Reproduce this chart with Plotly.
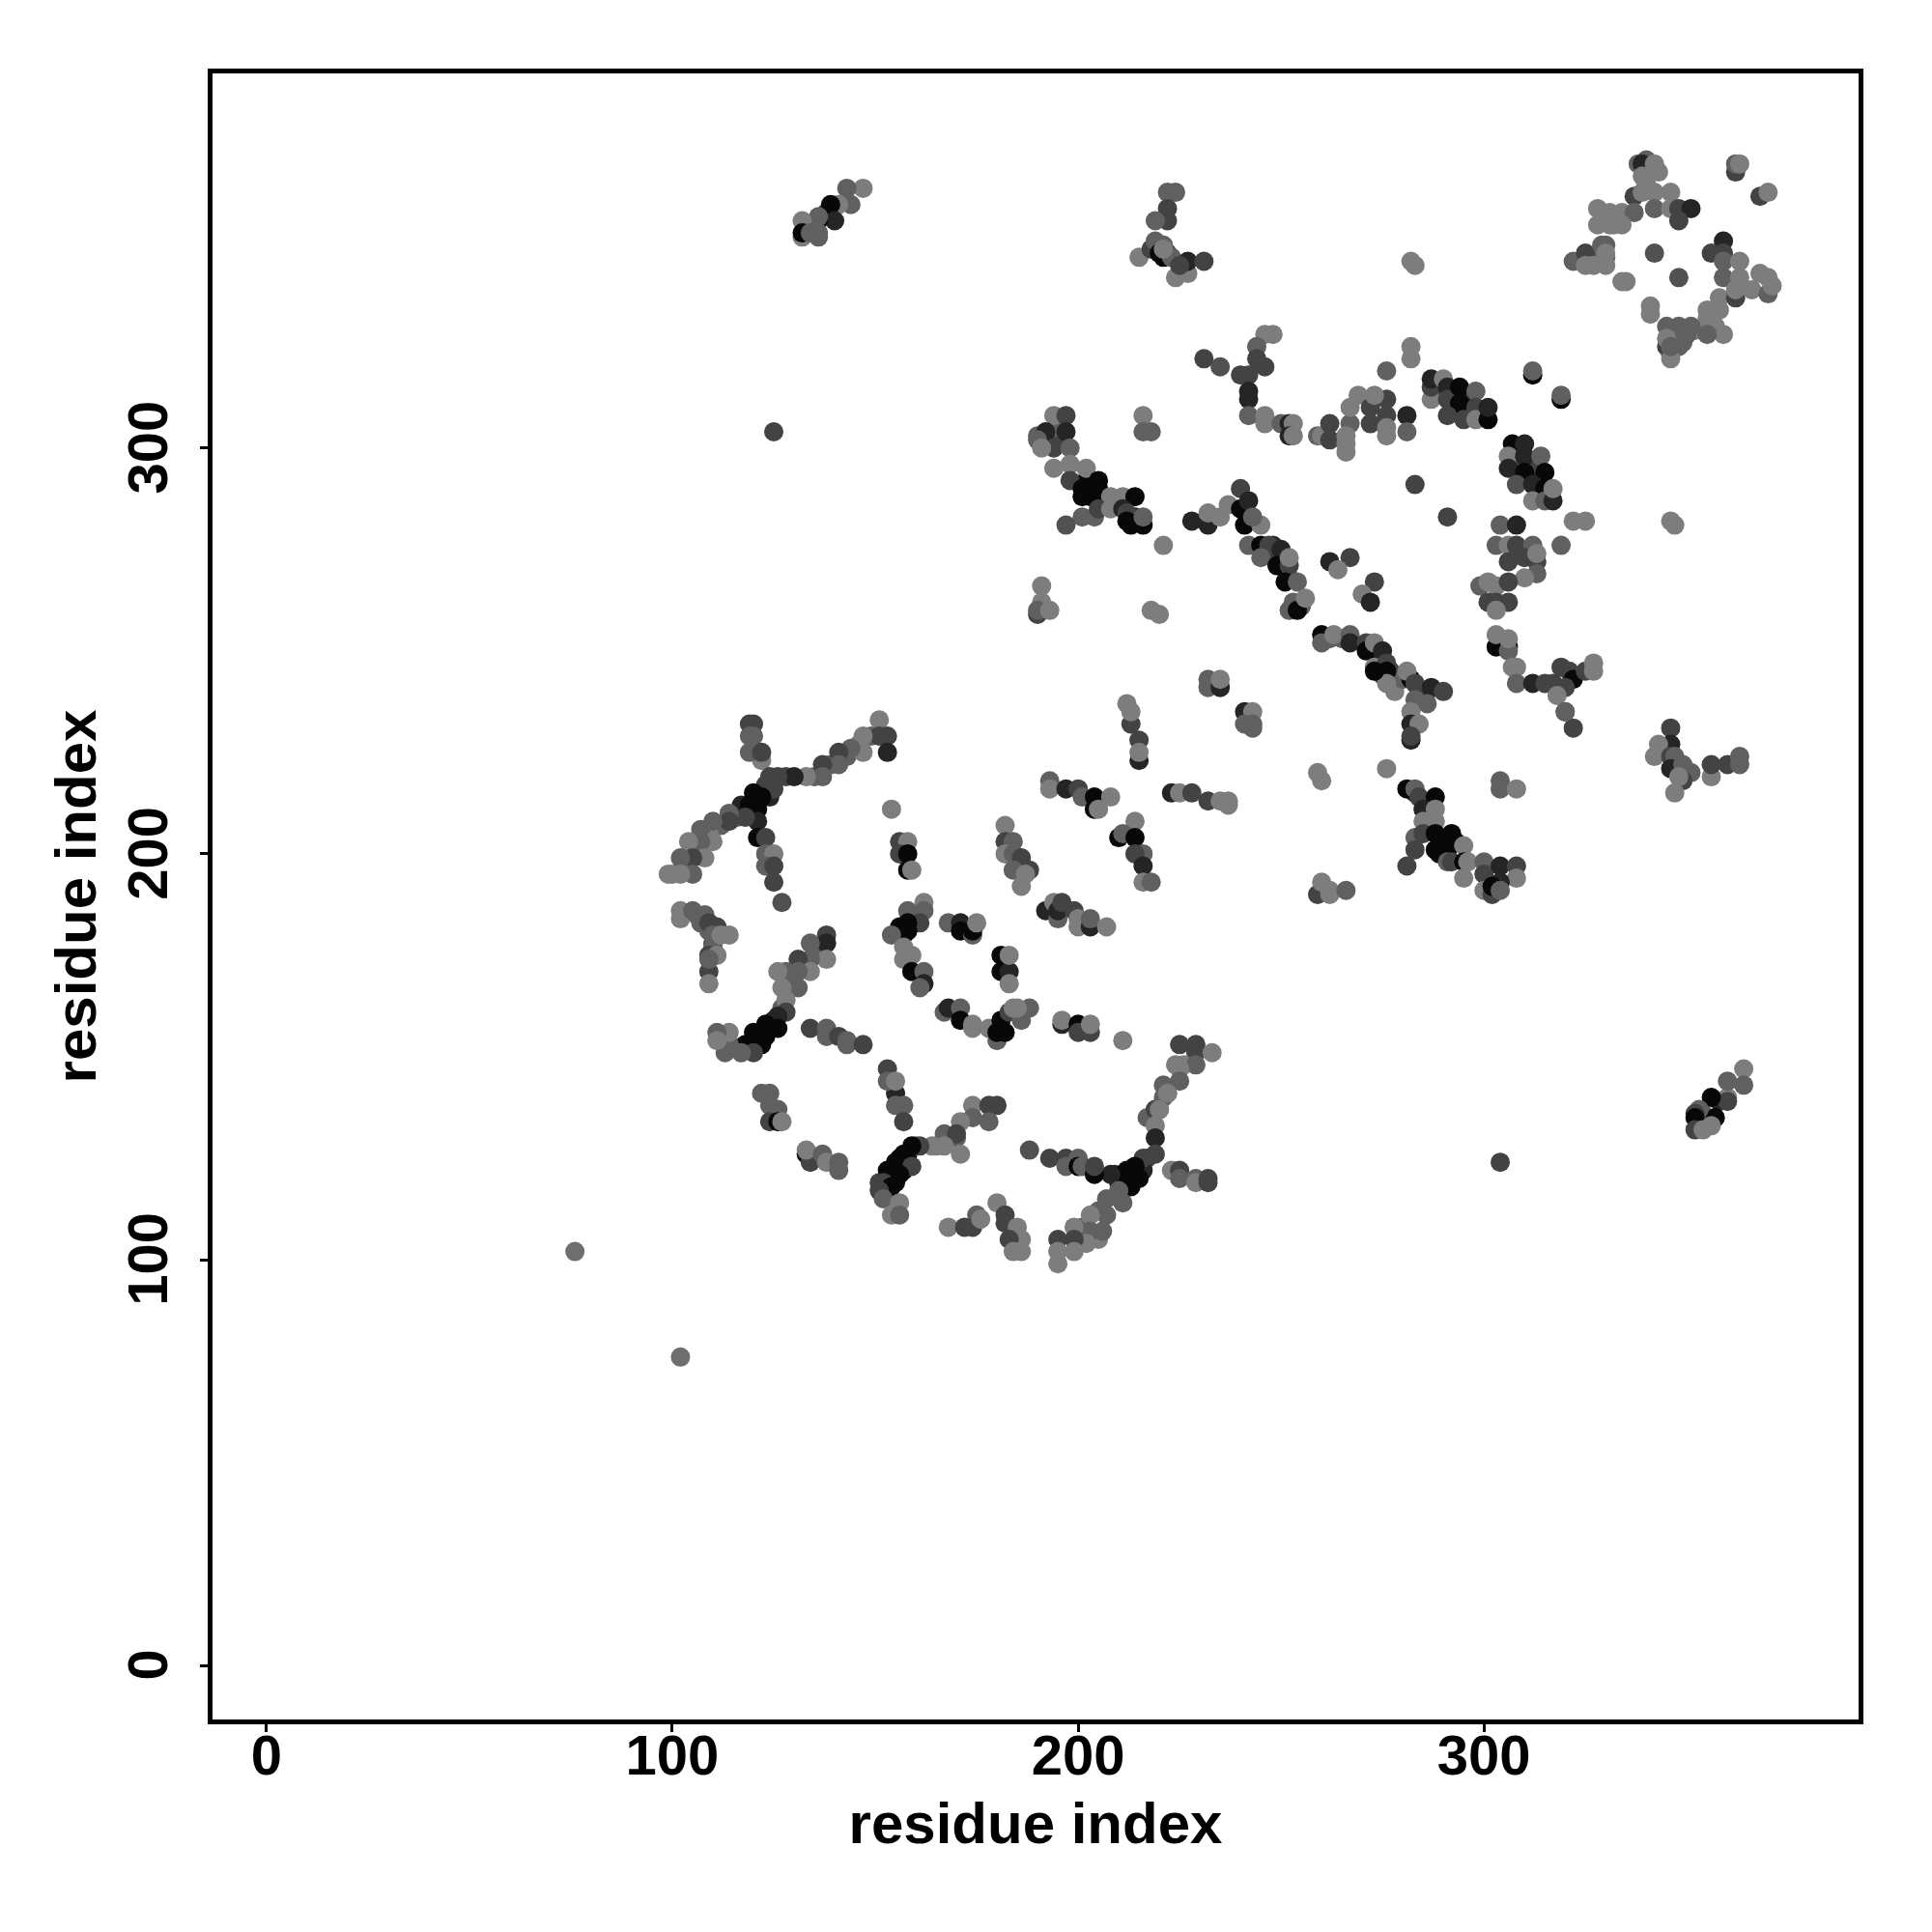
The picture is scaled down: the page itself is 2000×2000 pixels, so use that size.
import plotly.graph_objects as go

# score: 9 black, 7 very dark, 5 dark, 3 mid, 1 light grey
fill1_x=[128,135,139,143,146,149,116,112,109,106,103,100,123,117,120,124]
fill1_y=[219,219,222,224,227,229,209,207,205,201,197,195,217,212,209,214]
fill1_s=[5,3,3,3,1,3,3,3,1,1,1,1,5,7,9,7]
fill2_x=[125,124,121,119,116,127,129,133,136,113,106,107,109,110,110]
fill2_y=[159,157,155,153,152,162,169,172,176,151,185,183,181,178,177]
fill2_s=[7,9,9,9,7,3,3,3,3,3,3,3,3,5,3]
fill3_x=[158,156,154,157,155,153,151,160,165,217,212,210,209,214,213,216,205,201,205,217,221,224,221]
fill3_y=[126,125,122,122,119,118,119,128,128,125,122,119,121,122,120,122,112,108,105,135,143,148,140]
fill3_s=[9,9,9,9,9,5,5,3,1,5,9,7,7,9,9,7,3,3,1,3,3,1,3]
fill4_x=[203,205,202,206,214,213,193,195,195,292,296,289,293,308,312,314,309,312]
fill4_y=[288,290,292,288,283,281,302,302,305,313,312,315,309,295,293,292,297,296]
fill4_s=[9,9,9,9,7,9,3,5,3,7,7,5,9,5,7,7,5,5]
fill5_x=[286,290,289,293,283,285,286,247,250,252,253,248,255,262,265,274,277,275,278,280,284,286]
fill5_y=[206,203,200,203,215,213,210,274,272,268,262,276,261,253,253,248,245,244,240,243,240,240]
fill5_s=[5,9,9,9,7,5,3,5,5,5,3,7,3,3,3,7,5,5,1,3,5,5]
fill6_x=[347,349,352,346,328,330,327,341,340,333,331,134,138,133,137,221,222,354,358,355]
fill6_y=[327,326,329,323,346,347,347,370,365,357,355,354,358,354,357,350,348,136,139,134]
fill6_s=[3,3,1,3,3,3,3,3,1,1,1,3,5,3,5,3,5,3,7,3]
stem_x=[119,120,119,120,122,119,122]
stem_y=[232,232,229,229,223,225,225]
stem_s=[5,5,3,3,1,3,5]
arm_x=[151,153,151,153,147,147,144,141,141,137,137,133,130,126,124,125,122,120,119,121,121,118,114,114,110,107,110,107,104,108,105,102,105,102,99]
arm_y=[233,229,229,225,229,225,226,225,222,222,219,219,219,219,219,216,214,215,212,211,208,209,210,208,208,206,203,203,203,199,199,199,195,195,195]
arm_s=[1,5,5,7,1,1,3,5,3,5,3,1,7,5,5,5,9,9,9,9,7,5,3,5,3,3,1,3,1,1,5,3,3,1,1]
low_x=[121,123,123,125,123,125,125,127]
low_y=[204,204,200,200,197,197,193,188]
low_s=[9,5,3,1,3,5,5,4]
mid1_x=[154,156,158,156,158,158,159,182,182,184,182,184,186,184,186,188,187]
mid1_y=[211,203,203,200,200,196,196,207,203,203,200,200,199,196,192,196,195]
mid1_s=[1,5,1,5,9,9,1,1,5,3,1,3,5,3,1,5,1]
left_x=[102,102,105,108,109,111,110,112,114,109,109,111,109,109]
left_y=[186,184,186,185,183,182,180,180,180,175,171,175,174,168]
left_s=[1,1,3,3,5,5,3,1,1,5,5,1,3,1]
cen_x=[138,138,134,138,134,131,134,131,128,126,131,127,128,128,126,126,123,120,123,122,118,120,117,114,114,111,111]
cen_y=[180,178,178,174,174,174,171,171,171,171,167,167,164,161,160,157,158,156,155,153,153,151,151,153,156,156,154]
cen_s=[5,7,3,1,3,5,1,3,3,1,3,1,1,5,7,9,9,9,9,9,9,5,3,3,1,3,1]
bar_x=[134,138,138,141,143,143,147]
bar_y=[157,157,155,155,154,153,153]
bar_s=[5,3,3,5,3,3,5]
rt_x=[162,162,158,161,158,156,158,157,154,157,159,157,159,162,162,161]
rt_y=[188,186,186,183,183,182,181,180,180,177,175,174,171,171,168,167]
rt_s=[1,3,3,5,9,9,9,9,3,1,1,1,9,3,7,3]
ov_x=[168,171,171,174,174,175,181,181,183,183,183]
ov_y=[183,183,181,180,181,183,175,171,171,175,168]
ov_s=[3,7,9,3,9,1,9,9,7,1,1]
ov2_x=[167,168,171,171,174,174,178,180,180,182,181,183,186,188,185,184]
ov2_y=[161,162,162,159,158,157,157,154,156,156,159,161,159,162,162,162]
ov2_s=[3,7,3,9,1,1,1,3,9,9,9,5,3,3,1,1]
sb_x=[153,155,153,155,155,157,157]
sb_y=[147,141,144,138,144,138,134]
sb_s=[5,7,3,3,1,3,5]
y_x=[174,178,180,174,178,171,167,170,170,171,167,164,161,159,157,155,159,153,156,152,154,151,152,156,154,156]
y_y=[138,138,138,135,134,134,131,130,131,126,128,128,128,128,126,124,123,122,121,119,118,117,115,114,111,111]
y_s=[1,5,5,3,3,1,3,3,5,1,1,1,5,9,9,9,5,9,9,5,9,5,3,1,1,3]
c1_x=[122,124,124,126,124,126,127]
c1_y=[141,141,138,137,134,134,134]
c1_s=[3,3,3,3,5,9,1]
c2_x=[133,134,133,137,138,141,141]
c2_y=[126,124,127,126,124,124,122]
c2_s=[9,5,1,3,1,3,3]
c3_x=[168,172,175,174,176,180,182,182,185,186,183,184,186]
c3_y=[108,108,111,108,110,114,111,109,108,105,105,102,102]
c3_s=[1,5,3,5,1,1,5,5,1,1,5,1,1]
solo_x=[102,76,125,304]
solo_y=[76,102,304,124]
solo_s=[2,2,5,5]
a1_x=[213,213,212,215,215,215,241,243,241,243,243,259,260]
a1_y=[232,235,237,228,223,225,235,235,232,232,231,220,218]
a1_s=[5,1,1,5,7,1,7,1,3,3,3,1,1]
a2_x=[193,193,197,200,201,204,204,205,208,223,225,228,232,235,237,237]
a2_y=[218,216,216,216,214,214,211,211,214,215,215,215,213,213,213,212]
a2_s=[3,1,7,5,3,9,9,1,1,7,1,5,5,1,1,1]
a3_x=[214,210,211,214,216,214,216,216,218]
a3_y=[208,204,205,204,200,200,197,193,193]
a3_s=[1,9,3,9,3,5,7,1,3]
a4_x=[192,194,195,195,196,199,200,200,203,203,207]
a4_y=[186,188,184,186,188,186,184,182,182,184,182]
a4_s=[7,1,3,7,5,5,1,1,7,3,1]
a5_x=[259,260,262,262,266,196,196,200,200,203,203,211]
a5_y=[190,193,191,190,191,158,159,158,156,156,158,154]
a5_s=[5,1,1,1,3,7,1,9,5,5,1,1]
b1_x=[225,229,229,233,226,229,225,225,222,222,219,220,220,219,219,219,216,214,215,211,213,208,210,207,211,207,203,206,203,202,199,199,199,195,195,195]
b1_y=[153,153,151,151,148,148,147,144,141,141,137,137,137,133,130,126,125,123,120,121,118,121,117,115,114,111,111,107,107,104,108,105,102,105,102,99]
b1_s=[5,5,5,1,1,3,1,3,5,1,5,5,1,1,7,5,5,9,9,9,9,7,3,3,3,3,1,3,3,1,1,5,1,5,1,1]
b2_x=[188,193,197,200,197,200,201,204,204]
b2_y=[127,125,125,125,123,123,123,121,123]
b2_s=[4,5,5,3,3,9,3,9,5]
b3_x=[223,225,225,229,229,232,232]
b3_y=[122,122,120,120,119,120,119]
b3_s=[1,5,3,3,1,5,5]
d1_x=[194,197,190,192,197,190,194,198,191,194,198,198,202,201,205,201,205,203,208,211,214,201,204,205,197,208,211,212,212,216,216]
d1_y=[308,308,303,304,304,302,300,300,300,295,296,292,295,290,292,288,288,290,288,288,288,283,283,285,281,285,285,284,282,281,283]
d1_s=[1,5,3,7,7,3,5,3,1,1,1,5,1,9,9,9,9,9,1,1,9,3,3,5,4,1,7,5,9,9,3]
d2_x=[216,216,218,221,228,232,232,235,237,240,240,242,241,245,243]
d2_y=[308,304,304,276,282,281,284,283,286,290,285,287,281,281,283]
d2_s=[1,3,3,1,7,7,1,1,1,5,9,7,9,1,3]
e1_x=[242,245,247,245,250,249,252,252,251,254,252,254,256]
e1_y=[276,276,276,273,275,271,271,273,267,267,260,260,263]
e1_s=[3,9,5,3,7,9,5,1,9,3,3,9,1]
e2_x=[262,267,264,273,270,272,191,191,190,190,193,218,220,232,232,235,235]
e2_y=[272,273,270,267,264,262,266,262,259,260,260,260,259,243,241,241,243]
e2_s=[7,5,1,5,1,7,1,1,5,3,1,1,1,3,3,7,1]
f1_x=[242,242,246,246,250,252,253,252,253,259,260,262,262,267,266,266,266]
f1_y=[312,308,308,306,306,306,306,303,303,303,303,306,302,306,303,301,299]
f1_s=[7,3,1,1,3,7,1,7,1,3,1,5,5,3,1,1,1]
f2_x=[269,267,272,276,272,273,276,276,276,281,281]
f2_y=[313,310,306,312,310,313,308,305,303,308,304]
f2_s=[1,1,5,5,5,1,5,1,1,7,3]
f3_x=[231,235,240,242,246,248,244,244,242,246]
f3_y=[322,320,318,318,328,328,325,322,314,320]
f3_s=[5,4,5,5,1,1,3,5,7,5]
g1_x=[282,282,276,287,287,287,290,291,291,294,294,291,295,298,298,298,301,301]
g1_y=[325,322,319,312,315,317,317,315,312,315,311,308,307,314,310,307,307,310]
g1_s=[1,1,3,1,5,7,1,7,5,9,9,5,5,3,5,1,9,7]
g2_x=[312,312,319,319,307,310,306,306,310,314,310,315,308,312,315,312,315,317,317]
g2_y=[318,319,312,313,301,301,298,295,298,298,294,294,291,291,290,287,287,287,290]
g2_s=[9,3,9,3,9,7,1,7,7,3,9,9,4,7,9,1,3,7,1]
h1_x=[283,291,322,325,319,346,347,282,283,304,308]
h1_y=[291,283,282,282,276,282,281,346,345,281,281]
h1_s=[5,5,1,1,3,1,1,1,1,3,7]
h2_x=[303,306,308,312,306,310,313,313,313,310]
h2_y=[276,276,276,276,272,273,272,269,274,268]
h2_s=[3,1,5,3,5,5,5,3,1,1]
h3_x=[299,301,303,306,306,301,303,303]
h3_y=[266,267,266,267,262,262,262,260]
h3_s=[3,1,1,5,5,5,5,1]
i1_x=[303,303,306,306,306,307,308,308,312]
i1_y=[251,254,251,250,253,246,246,242,242]
i1_s=[9,1,9,3,1,1,1,3,7]
i2_x=[315,317,319,321,322,320,318,320,325,327,327,322,320]
i2_y=[242,242,246,245,243,241,239,235,245,247,245,231,235]
i2_s=[5,5,5,5,9,5,1,3,5,1,1,5,3]
j1_x=[260,260,263,267,267,271,271,273,275,273,276,276,276,273]
j1_y=[254,252,254,254,252,252,250,252,250,246,247,245,242,245]
j1_s=[9,3,1,3,7,5,9,1,7,1,5,9,1,9]
j2_x=[282,281,283,287,290,286,283,282,282,284,282,282]
j2_y=[243,245,242,241,240,237,238,235,232,232,228,229]
j2_s=[9,1,5,7,5,3,3,1,7,1,7,5]
k1_x=[276,281,283,284,288,285,288,285,288,283,285,288,292,288,291,283,281]
k1_y=[221,216,216,214,214,211,211,208,208,204,205,205,205,201,201,201,197]
k1_s=[1,9,3,5,9,7,1,1,1,3,5,9,9,9,9,5,5]
k2_x=[295,291,292,295,296,295,300,300,304,308,308,300,304,302,302,304,304,304,308]
k2_y=[202,198,198,198,198,194,198,195,197,197,194,191,193,190,192,191,218,216,216]
k2_s=[1,3,5,9,1,1,3,5,7,5,1,1,7,5,9,3,3,3,1]
m1_x=[338,340,339,342,343,339,362,362,363,368,370,337,339,342,346,342,346,348,351,348]
m1_y=[370,371,370,370,368,367,368,370,370,362,363,362,363,363,363,359,359,359,359,356]
m1_s=[3,3,7,1,1,1,5,3,1,5,1,5,1,1,1,3,1,5,7,5]
m2_x=[328,331,334,337,328,332,334,325,322,325,329,330,330,327,330,325]
m2_y=[359,358,358,358,355,355,355,346,346,348,350,350,348,345,345,345]
m2_s=[1,1,1,3,1,1,1,5,3,5,3,3,1,1,1,1]
m3_x=[342,348,334,335,341,341,359,356,359,359,363,359,363,363,358,362,362,366,368,370,370,371]
m3_y=[348,342,341,341,335,333,351,348,348,346,346,342,342,340,337,337,339,339,343,342,338,340]
m3_s=[4,4,1,1,1,1,7,5,5,3,1,3,1,1,1,5,1,1,1,1,3,1]
m4_x=[355,358,355,357,359,355,351,348,345,350,348,345,348,346,345,346]
m4_y=[334,334,332,330,328,328,330,330,330,328,328,325,325,322,327,325]
m4_s=[1,1,1,1,1,3,3,3,3,3,3,5,3,1,1,3]
n1_x=[147,143,144,141,139,140,136,136,132,136,132,132,134,136]
n1_y=[364,364,360,360,360,356,356,357,356,353,352,353,353,352]
n1_s=[1,3,3,1,9,7,9,3,1,3,1,9,3,3]
n2_x=[222,224,222,222,219,215,218,219,220,221,223,224,227,227,231,225,221]
n2_y=[363,363,359,356,356,347,349,351,348,347,347,342,343,346,346,345,349]
n2_s=[3,3,5,5,3,1,5,3,9,9,3,1,1,7,5,5,1]
p1_x=[346,346,343,342,346,347,346,349,351,349,348,347,356,356,360,363,363]
p1_y=[231,227,227,224,224,224,221,222,220,218,219,215,219,222,222,224,222]
p1_s=[5,7,1,1,5,3,7,3,3,5,1,1,1,5,5,3,3]
q1_x=[364,364,360,360,360,356,357,353,352,352,352,354,356]
q1_y=[147,143,140,144,139,140,135,137,136,135,132,132,133]
q1_s=[1,3,1,3,5,9,9,3,5,9,5,1,1]

groups = [
 (fill1_x,fill1_y,fill1_s),(fill2_x,fill2_y,fill2_s),(fill3_x,fill3_y,fill3_s),
 (fill4_x,fill4_y,fill4_s),(fill5_x,fill5_y,fill5_s),(fill6_x,fill6_y,fill6_s),
 (stem_x,stem_y,stem_s),(arm_x,arm_y,arm_s),(low_x,low_y,low_s),(mid1_x,mid1_y,mid1_s),
 (left_x,left_y,left_s),(cen_x,cen_y,cen_s),(bar_x,bar_y,bar_s),(rt_x,rt_y,rt_s),
 (ov_x,ov_y,ov_s),(ov2_x,ov2_y,ov2_s),(sb_x,sb_y,sb_s),(y_x,y_y,y_s),(c1_x,c1_y,c1_s),
 (c2_x,c2_y,c2_s),(c3_x,c3_y,c3_s),(solo_x,solo_y,solo_s),(a1_x,a1_y,a1_s),(a2_x,a2_y,a2_s),
 (a3_x,a3_y,a3_s),(a4_x,a4_y,a4_s),(a5_x,a5_y,a5_s),(b1_x,b1_y,b1_s),(b2_x,b2_y,b2_s),
 (b3_x,b3_y,b3_s),(d1_x,d1_y,d1_s),(d2_x,d2_y,d2_s),(e1_x,e1_y,e1_s),(e2_x,e2_y,e2_s),
 (f1_x,f1_y,f1_s),(f2_x,f2_y,f2_s),(f3_x,f3_y,f3_s),(g1_x,g1_y,g1_s),(g2_x,g2_y,g2_s),
 (h1_x,h1_y,h1_s),(h2_x,h2_y,h2_s),(h3_x,h3_y,h3_s),(i1_x,i1_y,i1_s),(i2_x,i2_y,i2_s),
 (j1_x,j1_y,j1_s),(j2_x,j2_y,j2_s),(k1_x,k1_y,k1_s),(k2_x,k2_y,k2_s),(m1_x,m1_y,m1_s),
 (m2_x,m2_y,m2_s),(m3_x,m3_y,m3_s),(m4_x,m4_y,m4_s),(n1_x,n1_y,n1_s),(n2_x,n2_y,n2_s),
 (p1_x,p1_y,p1_s),(q1_x,q1_y,q1_s),
]
xs, ys, ss = [], [], []
for n, (gx, gy, gs) in enumerate(groups):
    assert len(gx) == len(gy) == len(gs), (n, len(gx), len(gy), len(gs))
    xs += gx; ys += gy; ss += gs

tick_vals = [0, 100, 200, 300]
tick_text = ["0", "100", "200", "300"]
y_tick_text = [t + "\u00a0" for t in tick_text]
FONT = "Liberation Sans"

fig = go.Figure(go.Scatter(
    x=xs, y=ys, mode="markers",
    marker=dict(size=20, color=ss, cmin=1, cmax=9, line=dict(width=0),
                colorscale=[[0, "rgb(125,125,125)"], [1, "rgb(8,8,8)"]], showscale=False),
))
axis = dict(range=[-13.3, 392.3], tickvals=tick_vals, showgrid=False, zeroline=False,
            showline=True, mirror=True, linecolor="black", linewidth=5,
            ticks="outside", ticklen=8, tickwidth=3, tickcolor="black",
            tickfont=dict(family=FONT, size=58, color="black", weight="bold"))
fig.update_layout(
    width=2000, height=2000, margin=dict(l=212, r=84, t=68, b=228, autoexpand=False),
    paper_bgcolor="white", plot_bgcolor="white", showlegend=False,
    xaxis=dict(axis, ticktext=tick_text, ticklabelstandoff=-26, title=dict(text="residue index", standoff=20,
               font=dict(family=FONT, size=60, color="black", weight="bold"))),
    yaxis=dict(axis, ticktext=y_tick_text, tickangle=-90, ticklabelstandoff=11, title=dict(text="residue index", standoff=2,
               font=dict(family=FONT, size=60, color="black", weight="bold"))),
)
fig.write_html("out.html")
